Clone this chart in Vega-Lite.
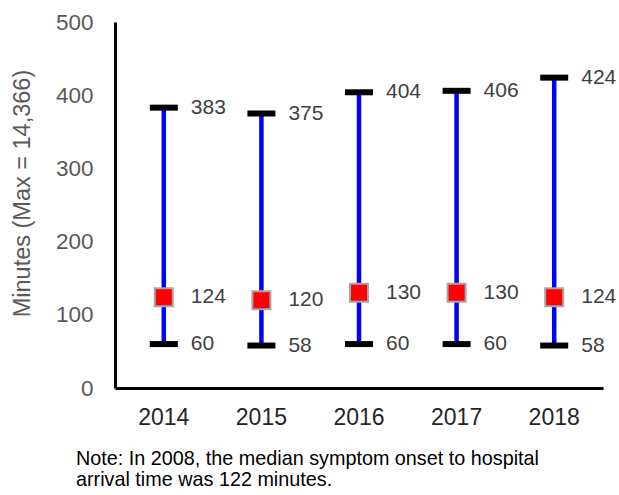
{
  "$schema": "https://vega.github.io/schema/vega-lite/v6.json",
  "width": 488,
  "height": 366,
  "autosize": {"type": "none"},
  "padding": {"left": 115, "top": 22, "right": 16, "bottom": 107},
  "background": "white",
  "config": {
    "font": "Liberation Sans",
    "view": {"stroke": null}
  },
  "title": {
    "text": ["Note: In 2008, the median symptom onset to hospital", "arrival time was 122 minutes."],
    "orient": "bottom",
    "anchor": "start",
    "frame": "group",
    "dx": -39,
    "offset": 20,
    "fontSize": 19.8,
    "fontWeight": "normal",
    "color": "black",
    "lineHeight": 21,
    "font": "Liberation Sans"
  },
  "data": {
    "values": [
      {"year": "2014", "low": 60, "median": 124, "high": 383},
      {"year": "2015", "low": 58, "median": 120, "high": 375},
      {"year": "2016", "low": 60, "median": 130, "high": 404},
      {"year": "2017", "low": 60, "median": 130, "high": 406},
      {"year": "2018", "low": 58, "median": 124, "high": 424}
    ]
  },
  "encoding": {
    "x": {
      "field": "year",
      "type": "nominal",
      "scale": {"paddingInner": 0, "paddingOuter": 0},
      "axis": {
        "title": null,
        "labelAngle": 0,
        "labelFontSize": 23,
        "labelColor": "#262626",
        "labelPadding": 18,
        "ticks": false,
        "domainColor": "black",
        "domainWidth": 3,
        "grid": false
      }
    }
  },
  "layer": [
    {
      "mark": {"type": "rule", "color": "#0000FF", "strokeWidth": 4.5},
      "encoding": {
        "y": {
          "field": "low",
          "type": "quantitative",
          "scale": {"domain": [0, 500], "nice": false},
          "axis": {
            "title": "Minutes (Max = 14,366)",
            "titleFontSize": 23.5,
            "titleFontWeight": "normal",
            "titleColor": "#595959",
            "titleAngle": -90,
            "titleAlign": "center",
            "titleBaseline": "middle",
            "titleX": -93,
            "titleY": 171,
            "values": [0, 100, 200, 300, 400, 500],
            "labelFontSize": 22.5,
            "labelColor": "#595959",
            "labelPadding": 22,
            "ticks": false,
            "grid": false,
            "domainColor": "black",
            "domainWidth": 3
          }
        },
        "y2": {"field": "high"}
      }
    },
    {
      "mark": {"type": "tick", "color": "black", "size": 28, "thickness": 6, "opacity": 1},
      "encoding": {"y": {"field": "low", "type": "quantitative"}}
    },
    {
      "mark": {"type": "tick", "color": "black", "size": 28, "thickness": 6, "opacity": 1},
      "encoding": {"y": {"field": "high", "type": "quantitative"}}
    },
    {
      "mark": {"type": "square", "size": 324, "fill": "#FF0000", "stroke": "#A6A6A6", "strokeWidth": 2, "opacity": 1},
      "encoding": {"y": {"field": "median", "type": "quantitative"}}
    },
    {
      "mark": {"type": "text", "align": "left", "baseline": "middle", "dx": 27, "fontSize": 21, "color": "#404040"},
      "encoding": {"y": {"field": "low", "type": "quantitative"}, "text": {"field": "low"}}
    },
    {
      "mark": {"type": "text", "align": "left", "baseline": "middle", "dx": 27, "fontSize": 21, "color": "#404040"},
      "encoding": {"y": {"field": "median", "type": "quantitative"}, "text": {"field": "median"}}
    },
    {
      "mark": {"type": "text", "align": "left", "baseline": "middle", "dx": 27, "fontSize": 21, "color": "#404040"},
      "encoding": {"y": {"field": "high", "type": "quantitative"}, "text": {"field": "high"}}
    }
  ]
}
